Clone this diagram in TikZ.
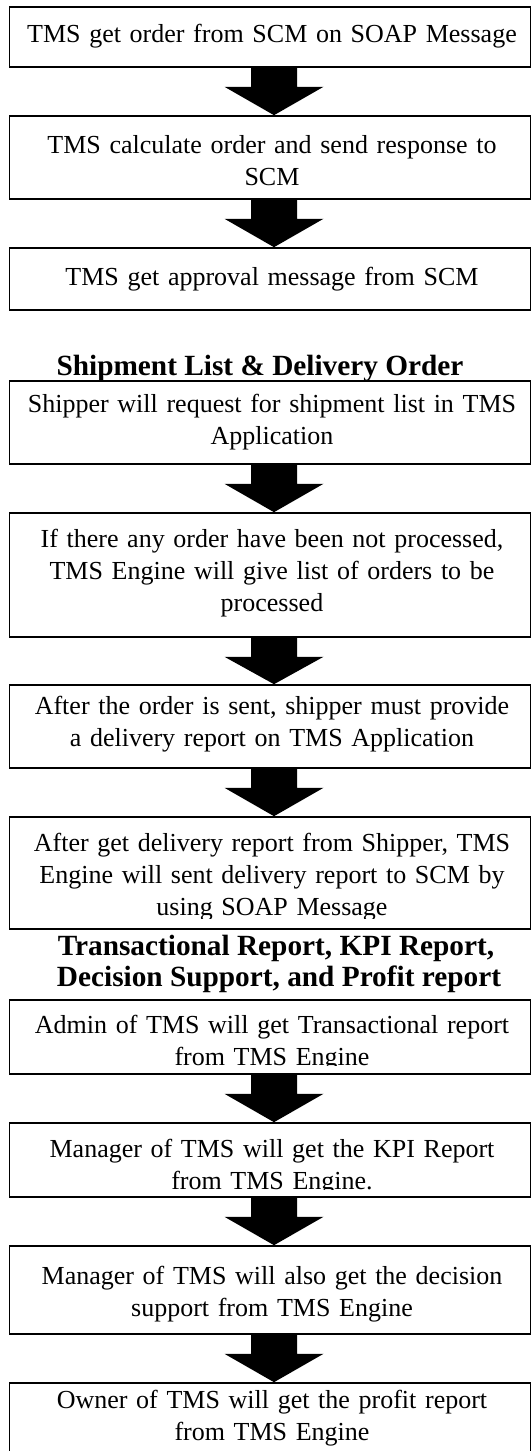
\documentclass[tikz,border=0pt]{standalone}
\usepackage{fontspec}
\setmainfont{Liberation Serif}
\usetikzlibrary{calc}

\tikzset{
  stepbox/.style={draw, rectangle, line width=1.6pt, minimum width=521pt, inner sep=0pt},
  boxtext/.style={anchor=base, align=center, text width=520pt, inner sep=0pt,
                  font=\fontsize{26}{32}\selectfont},
  headtext/.style={anchor=base, inner sep=0pt, font=\fontsize{29.3}{31}\selectfont\bfseries},
}

% text of a step, clipped to the inside of its box
\newcommand\steptext[4]{%
  \begin{scope}
    \clip (#1.north west) rectangle ($(#1.south east)+(0,-#3)$);
    \node[boxtext] (#1-text) at (272,#2) {#4};
  \end{scope}}

% thick block arrow from the bottom of one box to the top of the next
\newcommand\blockarrow[2]{%
  \fill let \p1=(#1.south), \p2=(#2.north) in
    (\x1-19pt,\y1) -- (\x1+27pt,\y1) -- (\x1+27pt,\y1-19pt) -- (\x1+53.5pt,\y1-19pt)
    -- (\x1+4pt,\y2) -- (\x1-45.5pt,\y1-19pt) -- (\x1-19pt,\y1-19pt) -- cycle;}

\begin{document}
\begin{tikzpicture}[x=1pt, y=-1pt]
  \useasboundingbox (0,0) rectangle (532,1451);
  \clip (0,0) rectangle (532,1451);
  \fill[white] (0,0) rectangle (532,1451);

  % order handling
  \node[stepbox, minimum height=60pt]  (b1)  at (270,37)    {};
  \node[stepbox, minimum height=83pt]  (b2)  at (270,157.5) {};
  \node[stepbox, minimum height=62pt]  (b3)  at (270,279)   {};

  % shipment list and delivery order
  \node[headtext] (h1) at (260,375) {Shipment List \& Delivery Order};

  \node[stepbox, minimum height=83pt]  (b4)  at (270,422.5) {};
  \node[stepbox, minimum height=124pt] (b5)  at (270,575)   {};
  \node[stepbox, minimum height=83pt]  (b6)  at (270,726.5) {};
  \node[stepbox, minimum height=112pt] (b7)  at (270,873)   {};

  % reports
  \node[headtext] (h2a) at (276,955) {Transactional Report, KPI Report,};
  \node[headtext] (h2b) at (279,986) {Decision Support, and Profit report};

  \node[stepbox, minimum height=74pt]  (b8)  at (270,1037)  {};
  \node[stepbox, minimum height=74pt]  (b9)  at (270,1160)  {};
  \node[stepbox, minimum height=88pt]  (b10) at (270,1290)  {};
  \node[stepbox, minimum height=87pt]  (b11) at (270,1426.5){};

  \steptext{b1}{42}{8}{TMS get order from SCM on SOAP Message}
  \steptext{b2}{153}{8}{TMS calculate order and send response to\\SCM}
  \steptext{b3}{285}{8}{TMS get approval message from SCM}
  \steptext{b4}{412}{8}{Shipper will request for shipment list in TMS\\Application}
  \steptext{b5}{547}{8}{If there any order have been not processed,\\TMS Engine will give list of orders to be\\processed}
  \steptext{b6}{714}{8}{After the order is sent, shipper must provide\\a delivery report on TMS Application}
  \steptext{b7}{851}{11}{After get delivery report from Shipper, TMS\\Engine will sent delivery report to SCM by\\using SOAP Message}
  \steptext{b8}{1033}{9}{Admin of TMS will get Transactional report\\from TMS Engine}
  \steptext{b9}{1157}{8}{Manager of TMS will get the KPI Report\\from TMS Engine.}
  \steptext{b10}{1284}{8}{Manager of TMS will also get the decision\\support from TMS Engine}
  \steptext{b11}{1408}{8}{Owner of TMS will get the profit report\\from TMS Engine}

  \blockarrow{b1}{b2}
  \blockarrow{b2}{b3}
  \blockarrow{b4}{b5}
  \blockarrow{b5}{b6}
  \blockarrow{b6}{b7}
  \blockarrow{b8}{b9}
  \blockarrow{b9}{b10}
  \blockarrow{b10}{b11}
\end{tikzpicture}
\end{document}
